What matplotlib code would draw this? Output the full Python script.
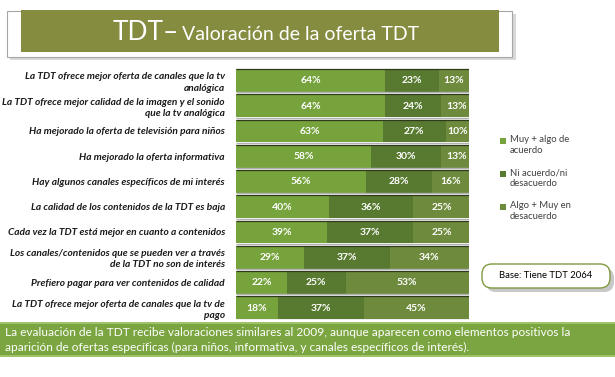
import matplotlib
matplotlib.use("Agg")
import matplotlib.pyplot as plt
from matplotlib.patches import Rectangle, FancyBboxPatch
import numpy as np

categories = [
    "La TDT ofrece mejor oferta de canales que la tv\nanalógica",
    "La TDT ofrece mejor calidad de la imagen y el sonido\nque la tv analógica",
    "Ha mejorado la oferta de televisión para niños",
    "Ha mejorado la oferta informativa",
    "Hay algunos canales específicos de mi interés",
    "La calidad de los contenidos de la TDT es baja",
    "Cada vez la TDT está mejor en cuanto a contenidos",
    "Los canales/contenidos que se pueden ver a través\nde la TDT no son de interés",
    "Prefiero pagar para ver contenidos de calidad",
    "La TDT ofrece mejor oferta de canales que la tv de\npago",
]
acuerdo = [64, 64, 63, 58, 56, 40, 39, 29, 22, 18]
ni_ni = [23, 24, 27, 30, 28, 36, 37, 37, 25, 37]
desacuerdo = [13, 13, 10, 13, 16, 25, 25, 34, 53, 45]
series_names = ["Muy + algo de\nacuerdo", "Ni acuerdo/ni\ndesacuerdo", "Algo + Muy en\ndesacuerdo"]
colors = ["#76A33C", "#587A30", "#6E8B3D"]

W, H = 615, 377
fig = plt.figure(figsize=(W / 100, H / 100), dpi=100)
fig.patch.set_facecolor("white")

def fx(px):
    return px / W

def fy(py):
    return 1 - py / H

bg = fig.add_axes([0, 0, 1, 1])
bg.set_xlim(0, W)
bg.set_ylim(H, 0)
bg.axis("off")

# title frame
bg.add_patch(Rectangle((10, 14), 506, 46, facecolor="#bfbfbf", edgecolor="none", alpha=0.6, zorder=0))
bg.add_patch(Rectangle((7, 11), 505, 46, facecolor="white", edgecolor="#a6a6a6", lw=0.8, zorder=1))
bg.add_patch(Rectangle((21, 10), 478, 42, facecolor="#858C3F", edgecolor="none", zorder=2))
t1 = bg.text(113, 32, "TDT–", color="white", fontsize=19, family="Lato", va="center", ha="left", zorder=3)
fig.canvas.draw()
bb = t1.get_window_extent()
xd = bg.transData.inverted().transform((bb.x1, 0))[0]
bg.text(xd + 3, 34, "Valoración de la oferta TDT", color="white", fontsize=14, family="Lato",
        va="center", ha="left", zorder=3)

# bottom banner
bg.add_patch(Rectangle((0, 322), W, 35, facecolor="#9FC26A", edgecolor="none", zorder=1))
bg.add_patch(Rectangle((0, 324), W, 31, facecolor="#7BA540", edgecolor="none", zorder=2))
bg.text(5, 332, "La evaluación de la TDT recibe valoraciones similares al 2009, aunque aparecen como elementos positivos la",
        color="white", fontsize=8.6, family="Lato", va="center", ha="left", zorder=3)
bg.text(5, 347, "aparición de ofertas específicas (para niños, informativa, y canales específicos de interés).",
        color="white", fontsize=8.6, family="Lato", va="center", ha="left", zorder=3)

# base box
bg.add_patch(FancyBboxPatch((486, 268), 128, 24, boxstyle="round,pad=0,rounding_size=10",
                            facecolor="#c8c8c8", edgecolor="none", zorder=1))
bg.add_patch(FancyBboxPatch((482, 264), 128, 24, boxstyle="round,pad=0,rounding_size=10",
                            facecolor="white", edgecolor="#7F9A3E", lw=1.0, zorder=2))
bg.text(546, 276, "Base: Tiene TDT 2064", color="black", fontsize=6.8, family="Lato",
        va="center", ha="center", zorder=3)

# legend
leg_y = [145, 178, 211]
for c, name, ly in zip(colors, series_names, leg_y):
    bg.add_patch(Rectangle((500, ly - 7.5), 6, 6, facecolor=c, edgecolor="none", zorder=3))
    bg.text(510, ly - 10, name, color="#404040", fontsize=6.8, family="Lato",
            va="top", ha="left", linespacing=1.3, zorder=3)

# bar chart
ax = fig.add_axes([fx(236), fy(320.3), fx(469) - fx(236), 252.5 / H])
ax.set_zorder(5)
ax.patch.set_alpha(0)
y = np.arange(len(categories))
left = np.zeros(len(categories))
for vals, c in zip([acuerdo, ni_ni, desacuerdo], colors):
    vals = np.array(vals, dtype=float)
    ax.barh(y, vals, left=left, height=0.9, color=c, edgecolor="none")
    for yi, (l, v) in enumerate(zip(left, vals)):
        ax.text(l + v / 2, yi + 0.02, f"{int(v)}%", color="white", fontsize=7.5, family="Lato",
                fontweight="bold", ha="center", va="center")
    left += vals
for yi in y:
    ax.plot([0, left[yi]], [yi - 0.45, yi - 0.45], color="#2f3a1c", lw=0.9, solid_capstyle="butt")
    ax.plot([0, left[yi]], [yi + 0.47, yi + 0.47], color="#b0b0b0", lw=1.0, solid_capstyle="butt")
ax.set_xlim(0, 100)
ax.set_ylim(len(categories) - 0.5, -0.5)
ax.set_yticks(y)
ax.set_yticklabels(categories, fontsize=7.3, family="Lato", fontweight="bold", style="italic",
                   color="#1a1a1a", linespacing=1.3)
for lab in ax.get_yticklabels():
    lab.set_multialignment("right")
ax.tick_params(axis="y", length=0, pad=8)
ax.set_xticks([])
for s in ax.spines.values():
    s.set_visible(False)

fig.savefig("out.png", dpi=100, facecolor="white")
